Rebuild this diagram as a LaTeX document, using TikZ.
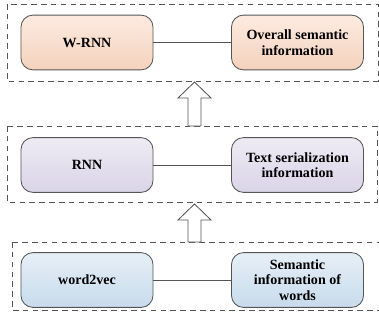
\documentclass[tikz,border=0pt]{standalone}
\usepackage{fontspec}
\setmainfont{Liberation Serif}

\definecolor{orangetop}{HTML}{FDEBE0}
\definecolor{orangebot}{HTML}{F4D2BD}
\definecolor{lilactop}{HTML}{EEEBF4}
\definecolor{lilacbot}{HTML}{DAD4E8}
\definecolor{bluetop}{HTML}{E6EFF7}
\definecolor{bluebot}{HTML}{C8DBEC}
\definecolor{edgegray}{HTML}{555555}

\tikzset{
  block/.style={rectangle,rounded corners=0.3cm,draw=edgegray,line width=0.6pt,
    minimum width=3.3cm,minimum height=1.37cm,align=center,
    font=\bfseries\fontsize{10}{11}\selectfont},
  group/.style={draw=edgegray,line width=0.6pt,dash pattern=on 4pt off 3pt},
  link/.style={draw=edgegray,line width=0.6pt},
  uparrow/.style={draw=edgegray,line width=0.6pt,fill=white}
}

\begin{document}
\begin{tikzpicture}[x=0.025cm,y=-0.025cm]
\useasboundingbox (0,0) rectangle (379,324);

      % groups
      \draw[group] (7,4)   rectangle (378,81);
      \draw[group] (7,126) rectangle (377,202);
      \draw[group] (12,242) rectangle (385,310);

      \begin{scope}[every node/.style={block,top color=orangetop,bottom color=orangebot}]
        \node (wrnn)    at (87,42.5)   {W-RNN};
        \node (overall) at (297.5,42.5) {Overall semantic\\information};
      \end{scope}

      \begin{scope}[every node/.style={block,top color=lilactop,bottom color=lilacbot}]
        \node (rnn)    at (87,165)   {RNN};
        \node (serial) at (297.5,165) {Text serialization\\information};
      \end{scope}

      \begin{scope}[every node/.style={block,top color=bluetop,bottom color=bluebot}]
        \node (w2v)   at (87,280)   {word2vec};
        \node (words) at (297.5,280) {Semantic\\information of\\words};
      \end{scope}

      \path[link] (wrnn) edge (overall);
      \path[link] (rnn)  edge (serial);
      \path[link] (w2v)  edge (words);

      % hollow arrows between layers
      \foreach \ty/\by in {82/126, 204/242} {
        \draw[uparrow] (194.5,\ty) -- (211,\ty+16) -- (201,\ty+16) -- (201,\by)
          -- (188,\by) -- (188,\ty+16) -- (178,\ty+16) -- cycle;
      }

\end{tikzpicture}
\end{document}
